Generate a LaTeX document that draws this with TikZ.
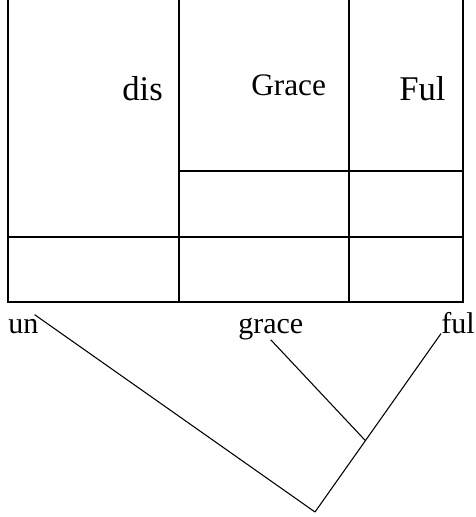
\documentclass[tikz,border=0pt]{standalone}
\usepackage{fontspec}
\setmainfont{Liberation Serif}
\usetikzlibrary{positioning,calc}

\begin{document}
\begin{tikzpicture}[
% first : the styles
    x=0.75pt, y=-0.75pt,
    grid/.style={line width=1.1pt},
    branch/.style={line width=0.8pt},
    word/.style={inner sep=0pt, font=\fontsize{22.5}{27}\selectfont},
    big/.style={inner sep=0pt, font=\fontsize{26}{31}\selectfont},
    small/.style={inner sep=0pt, font=\fontsize{23.5}{28}\selectfont}
]
\useasboundingbox (0,0) rectangle (475,517);

% the boxes
\draw[grid] (8,0) -- (8,302) -- (463,302) -- (463,0);
\draw[grid] (179,0) -- (179,302);
\draw[grid] (349,0) -- (349,302);
\draw[grid] (179,171) -- (463,171);
\draw[grid] (8,237) -- (463,237);

% words in the boxes
\node[big, anchor=base east] (dis) at (163,100) {dis};
\node[small, anchor=base west] (Grace) at (251,95) {Grace};
\node[big, anchor=base west] (Ful) at (399,100) {Ful};

% words under the boxes
\node[word, anchor=base west] (un) at (8,333) {un};
\node[word, anchor=base west] (grace) at (238,333) {grace};
\node[word, anchor=base west] (ful) at (441,333) {ful};

% tree
\coordinate (root) at (315,512);
\coordinate (join) at ($(ful.south west)!0.6!(root)$);
\draw[branch] ([shift={(-4,-4)}]un.north east) -- (root);
\draw[branch] (ful.south west) -- (root);
\draw[branch] (grace.south) -- (join);

\end{tikzpicture}
\end{document}
